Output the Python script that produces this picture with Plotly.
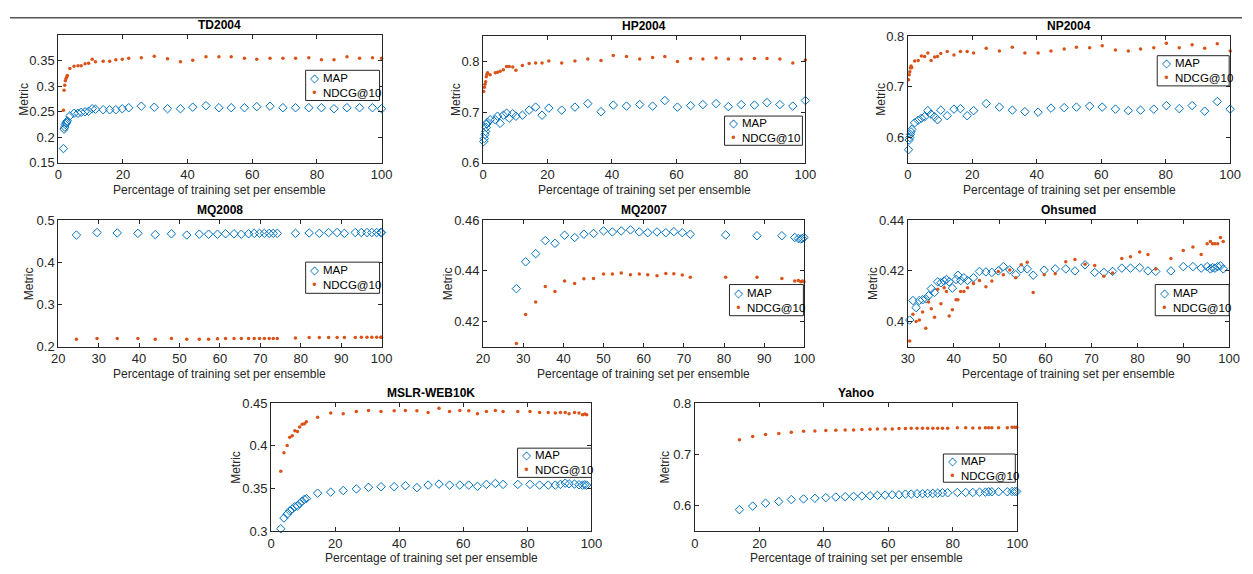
import plotly.graph_objects as go

W, H = 1253, 574

# ---------------- data ----------------
td_x = [1.6, 1.8, 2.0, 2.2, 2.4, 2.6, 2.8, 3.6, 4.9, 6.1, 7.1, 8.3, 9.4, 10.5, 11.5, 13.9, 15.9, 17.8, 19.8, 21.8,
        25.7, 29.7, 33.8, 37.8, 41.6, 45.7, 49.7, 53.5, 57.6, 61.4, 65.5, 69.5, 73.4, 77.5, 81.4, 85.3, 89.3, 93.2, 97.2, 100]
td_map = [0.178, 0.216, 0.22, 0.225, 0.228, 0.23, 0.232, 0.242, 0.247, 0.247, 0.249, 0.25, 0.251, 0.256, 0.255,
          0.254, 0.254, 0.254, 0.256, 0.258, 0.261, 0.259, 0.256, 0.256, 0.259, 0.262, 0.258, 0.258, 0.258, 0.26,
          0.261, 0.258, 0.258, 0.258, 0.258, 0.256, 0.258, 0.258, 0.258, 0.256]
td_ndcg = [0.253, 0.292, 0.302, 0.311, 0.315, 0.318, 0.321, 0.335, 0.339, 0.34, 0.34, 0.344, 0.345, 0.353, 0.348,
           0.349, 0.349, 0.352, 0.353, 0.355, 0.356, 0.359, 0.354, 0.348, 0.351, 0.358, 0.358, 0.358, 0.355, 0.353,
           0.355, 0.355, 0.355, 0.356, 0.352, 0.352, 0.358, 0.355, 0.356, 0.355]

hp_x = [0.2, 0.4, 0.6, 0.8, 1.0, 1.2, 1.4, 2.2, 3.8, 4.5, 5.3, 6.3, 7.3, 8.1, 9.2, 10.2, 12.2, 14.3, 16.3, 18.3, 20.4,
        24.4, 28.5, 32.5, 36.6, 40.4, 44.5, 48.6, 52.6, 56.4, 60.3, 64.4, 68.2, 72.3, 76.1, 80.1, 84.2, 88.1, 92.1, 96.1, 100]
hp_map = [0.642, 0.648, 0.656, 0.662, 0.67, 0.677, 0.68, 0.685, 0.685, 0.692, 0.678, 0.694, 0.698, 0.688, 0.697,
          0.692, 0.694, 0.704, 0.71, 0.694, 0.708, 0.704, 0.71, 0.717, 0.701, 0.714, 0.712, 0.715, 0.712, 0.723,
          0.71, 0.713, 0.715, 0.717, 0.711, 0.715, 0.714, 0.719, 0.715, 0.712, 0.723]
hp_ndcg = [0.741, 0.749, 0.755, 0.76, 0.77, 0.775, 0.778, 0.774, 0.778, 0.779, 0.781, 0.784, 0.79, 0.79, 0.789,
           0.783, 0.792, 0.796, 0.797, 0.797, 0.801, 0.797, 0.801, 0.805, 0.802, 0.812, 0.81, 0.805, 0.808, 0.81,
           0.8, 0.806, 0.805, 0.807, 0.805, 0.805, 0.806, 0.806, 0.805, 0.797, 0.803]

np_x = [0.2, 0.4, 0.6, 0.8, 1.0, 1.2, 2.1, 3.2, 4.2, 5.2, 6.2, 7.2, 8.3, 9.2, 10.2, 12.2, 14.3, 16.3, 18.4, 20.4,
        24.3, 28.4, 32.4, 36.3, 40.4, 44.4, 48.5, 52.3, 56.4, 60.3, 64.4, 68.4, 72.2, 76.3, 80.2, 84.2, 88.2, 92.1, 96.0, 100]
np_map = [0.576, 0.595, 0.6, 0.606, 0.611, 0.616, 0.629, 0.634, 0.638, 0.641, 0.653, 0.646, 0.641, 0.635, 0.654,
          0.643, 0.656, 0.657, 0.643, 0.653, 0.667, 0.66, 0.654, 0.651, 0.65, 0.658, 0.659, 0.66, 0.662, 0.66,
          0.656, 0.653, 0.654, 0.656, 0.663, 0.657, 0.663, 0.652, 0.671, 0.656]
np_ndcg = [0.714, 0.724, 0.73, 0.737, 0.741, 0.738, 0.751, 0.752, 0.761, 0.76, 0.767, 0.752, 0.759, 0.76, 0.766,
           0.77, 0.763, 0.77, 0.77, 0.767, 0.776, 0.771, 0.778, 0.767, 0.767, 0.771, 0.775, 0.778, 0.777, 0.781,
           0.773, 0.771, 0.775, 0.777, 0.786, 0.777, 0.783, 0.776, 0.785, 0.771]

mq8_x = [24.5, 29.6, 34.6, 39.7, 44.0, 48.0, 51.8, 54.9, 57.2, 59.4, 61.4, 63.5, 65.3, 67.1, 68.5, 69.8, 71.0,
         72.2, 73.2, 74.2, 78.7, 82.1, 84.6, 86.9, 89.0, 90.8, 93.5, 95.0, 96.4, 97.6, 98.8, 99.8, 100]
mq8_map = [0.465, 0.471, 0.47, 0.469, 0.466, 0.468, 0.465, 0.467, 0.467, 0.467, 0.468, 0.468, 0.467, 0.468,
           0.469, 0.469, 0.469, 0.469, 0.469, 0.469, 0.469, 0.47, 0.469, 0.471, 0.471, 0.469, 0.471, 0.471,
           0.471, 0.471, 0.471, 0.471, 0.471]
mq8_ndcg = [0.218, 0.22, 0.22, 0.22, 0.218, 0.22, 0.218, 0.218, 0.218, 0.219, 0.22, 0.22, 0.22, 0.22, 0.22,
            0.22, 0.22, 0.22, 0.22, 0.22, 0.221, 0.222, 0.222, 0.222, 0.222, 0.222, 0.222, 0.223, 0.223, 0.223,
            0.223, 0.223, 0.223]

mq7_x = [28.3, 30.6, 33.1, 35.5, 37.9, 40.3, 42.8, 45.1, 47.5, 50.0, 52.2, 54.4, 56.7, 58.9, 61.0, 63.3, 65.5,
         67.5, 69.6, 71.6, 80.4, 88.2, 94.4, 97.6, 98.5, 99.1, 99.5, 99.9]
mq7_map = [0.433, 0.4436, 0.4468, 0.452, 0.4509, 0.4541, 0.4532, 0.4545, 0.4548, 0.4558, 0.4554, 0.4558, 0.4562,
           0.4554, 0.4551, 0.4554, 0.4551, 0.4555, 0.4551, 0.4545, 0.4542, 0.4539, 0.4539, 0.4532, 0.4528,
           0.4526, 0.4528, 0.4532]
mq7_ndcg = [0.4113, 0.4228, 0.4277, 0.4338, 0.4319, 0.436, 0.435, 0.4369, 0.437, 0.4388, 0.4388, 0.4392, 0.4385,
            0.4388, 0.4385, 0.4381, 0.439, 0.4389, 0.4384, 0.4375, 0.4375, 0.4375, 0.437, 0.436, 0.4362, 0.4357,
            0.436, 0.4357]

oh_x = [30.4, 31.1, 31.8, 32.5, 33.2, 33.9, 34.5, 35.1, 35.8, 36.5, 37.2, 37.9, 38.4, 39.0, 39.7, 40.5, 40.9,
        41.5, 42.2, 43.0, 44.3, 45.6, 47.0, 48.3, 49.7, 50.8, 52.2, 53.5, 54.7, 56.0, 57.3, 59.7, 62.1, 64.4,
        66.4, 68.6, 70.7, 72.7, 74.6, 76.6, 78.5, 80.5, 82.3, 84.0, 87.3, 90.0, 92.1, 93.9, 95.2, 95.9, 96.4,
        96.9, 97.5, 98.1, 98.7]
oh_map = [0.4006, 0.4083, 0.4055, 0.4083, 0.4086, 0.409, 0.4102, 0.413, 0.4115, 0.4157, 0.4153, 0.416, 0.4166,
          0.4157, 0.4132, 0.4166, 0.4183, 0.4162, 0.4173, 0.4162, 0.4173, 0.4198, 0.4196, 0.4194, 0.42, 0.4217,
          0.4204, 0.4185, 0.4208, 0.4208, 0.4183, 0.4203, 0.4208, 0.4208, 0.42, 0.4224, 0.4194, 0.4194, 0.4198,
          0.4211, 0.4211, 0.4213, 0.42, 0.4198, 0.42, 0.4217, 0.4217, 0.4211, 0.4217, 0.4208, 0.4213, 0.4211,
          0.4217, 0.422, 0.4208]
oh_ndcg = [0.3923, 0.4029, 0.40, 0.4006, 0.4038, 0.3974, 0.4077, 0.4051, 0.4017, 0.4128, 0.407, 0.4134, 0.4119,
           0.4022, 0.4047, 0.4086, 0.4086, 0.4119, 0.4119, 0.4134, 0.415, 0.4162, 0.4137, 0.416, 0.4198, 0.4185,
           0.4204, 0.4173, 0.4224, 0.4234, 0.4115, 0.4185, 0.4189, 0.4236, 0.4245, 0.4226, 0.4221, 0.4179, 0.4192,
           0.4249, 0.4256, 0.4275, 0.4265, 0.4208, 0.4249, 0.4281, 0.4294, 0.4265, 0.4307, 0.4316, 0.4307, 0.4307,
           0.4307, 0.4332, 0.4316]

ms_x = [3.0, 4.0, 5.0, 5.8, 6.6, 7.4, 8.2, 8.9, 9.7, 10.4, 11.0, 14.5, 18.6, 22.5, 26.6, 30.4, 34.3, 38.4, 41.9,
        45.5, 49.0, 52.4, 55.7, 58.9, 61.7, 64.4, 67.2, 70.0, 72.4, 77.0, 80.8, 83.8, 86.5, 88.7, 90.3, 91.8, 93.0,
        94.7, 96.1, 97.2, 97.9, 98.5]
ms_map = [0.3026, 0.3152, 0.3197, 0.3235, 0.3258, 0.3285, 0.3292, 0.3323, 0.3349, 0.3372, 0.338, 0.3444, 0.3456,
          0.3475, 0.3494, 0.3513, 0.352, 0.352, 0.3532, 0.3509, 0.3539, 0.3551, 0.3539, 0.3539, 0.3539, 0.3524,
          0.3547, 0.3558, 0.3547, 0.3547, 0.3547, 0.3539, 0.3539, 0.3539, 0.3547, 0.3562, 0.3554, 0.3551, 0.3543,
          0.3539, 0.3543, 0.3539]
ms_ndcg = [0.3702, 0.3919, 0.4006, 0.4101, 0.412, 0.4177, 0.417, 0.4223, 0.4253, 0.4261, 0.4284, 0.4337, 0.4386,
           0.4378, 0.4405, 0.4416, 0.4405, 0.4413, 0.4416, 0.4413, 0.4394, 0.4443, 0.4405, 0.4416, 0.4413, 0.4378,
           0.4405, 0.4416, 0.4405, 0.4405, 0.4405, 0.4394, 0.4394, 0.4386, 0.4394, 0.4394, 0.4378, 0.4394, 0.4386,
           0.4367, 0.4375, 0.4367]

ya_x = [13.8, 17.9, 21.9, 26.0, 29.9, 33.7, 37.2, 40.6, 43.7, 46.6, 49.2, 51.8, 54.3, 56.6, 59.0, 61.2, 63.3,
        65.3, 67.1, 68.9, 70.6, 72.2, 73.8, 75.3, 76.8, 78.4, 81.4, 84.0, 86.2, 88.3, 90.1, 91.1, 92.1, 94.2,
        96.9, 98.4, 99.2, 99.8]
ya_map = [0.5917, 0.5987, 0.6044, 0.6076, 0.6114, 0.6127, 0.614, 0.6152, 0.6165, 0.6171, 0.6178, 0.6184, 0.619,
          0.6197, 0.6203, 0.6209, 0.6209, 0.6222, 0.6222, 0.6229, 0.6229, 0.6235, 0.6235, 0.6241, 0.6248, 0.6248,
          0.6254, 0.6254, 0.6254, 0.626, 0.626, 0.6267, 0.6267, 0.6267, 0.6267, 0.6273, 0.6273, 0.6273]
ya_ndcg = [0.7289, 0.7352, 0.739, 0.741, 0.7435, 0.7454, 0.746, 0.7467, 0.7473, 0.7479, 0.7479, 0.7486, 0.7492,
           0.7498, 0.7498, 0.7498, 0.7505, 0.7505, 0.7511, 0.7511, 0.7511, 0.7511, 0.7511, 0.7511, 0.7511, 0.7511,
           0.7524, 0.7524, 0.7517, 0.7517, 0.7524, 0.7524, 0.7524, 0.7524, 0.7524, 0.753, 0.753, 0.753]

# tick values
xt_0_100 = [0, 20, 40, 60, 80, 100]
xt_20_100 = [20, 30, 40, 50, 60, 70, 80, 90, 100]
xt_30_100 = [30, 40, 50, 60, 70, 80, 90, 100]
td_yt = [0.15, 0.2, 0.25, 0.3, 0.35]
hp_yt = [0.6, 0.7, 0.8]
np_yt = [0.6, 0.7, 0.8]
mq8_yt = [0.2, 0.3, 0.4, 0.5]
mq7_yt = [0.42, 0.44, 0.46]
oh_yt = [0.4, 0.42, 0.44]
ms_yt = [0.3, 0.35, 0.4, 0.45]
ya_yt = [0.6, 0.7, 0.8]

titles = ["TD2004", "HP2004", "NP2004", "MQ2008", "MQ2007", "Ohsumed", "MSLR-WEB10K", "Yahoo"]
series_names = ["MAP", "NDCG@10"]
x_label = "Percentage of training set per ensemble"
y_label = "Metric"

datasets = [
    (td_x, td_map, td_ndcg, xt_0_100, td_yt),
    (hp_x, hp_map, hp_ndcg, xt_0_100, hp_yt),
    (np_x, np_map, np_ndcg, xt_0_100, np_yt),
    (mq8_x, mq8_map, mq8_ndcg, xt_20_100, mq8_yt),
    (mq7_x, mq7_map, mq7_ndcg, xt_20_100, mq7_yt),
    (oh_x, oh_map, oh_ndcg, xt_30_100, oh_yt),
    (ms_x, ms_map, ms_ndcg, xt_0_100, ms_yt),
    (ya_x, ya_map, ya_ndcg, xt_0_100, ya_yt),
]

# ---------------- layout (pixels) ----------------
y_ranges = [[0.15, 0.4], [0.6, 0.85], [0.55, 0.8], [0.2, 0.5], [0.41, 0.46], [0.39, 0.44], [0.3, 0.45], [0.55, 0.8]]
boxes = [(52, 380, 29, 160), (483, 810, 30, 160), (914, 1241, 30, 160),
         (52, 380, 219, 349), (483, 809, 219, 349), (914, 1240, 219, 349),
         (268, 593, 407, 538), (698, 1025, 407, 538)]
ylab_off = [35, 28, 28, 30, 36, 36, 36, 30]
legend_boxes = [(303, 378, 65, 96), (728, 807, 112, 142), (1167, 1240, 50, 81),
                (303, 378, 262, 294), (733, 808, 285, 317), (1165, 1240, 285, 317),
                (518, 593, 453, 483), (950, 1023, 459, 488)]

BLUE = "#0072BD"
ORANGE = "#D95319"
AXC = "#262626"
FONT = "Liberation Sans, Arial, DejaVu Sans, sans-serif"

def px(x):
    return x / W

def py(y):
    return 1 - y / H

fig = go.Figure()
annotations = []
shapes = []
layout_axes = {}

for i, (xs, ymap, yndcg, xt, yt) in enumerate(datasets):
    n = i + 1
    xa = "x" if n == 1 else f"x{n}"
    ya = "y" if n == 1 else f"y{n}"
    xkey = "xaxis" if n == 1 else f"xaxis{n}"
    ykey = "yaxis" if n == 1 else f"yaxis{n}"
    l, r, t, b = boxes[i]

    fig.add_trace(go.Scatter(x=xs, y=ymap, mode="markers", name=series_names[0], xaxis=xa, yaxis=ya,
                             showlegend=False, cliponaxis=False,
                             marker=dict(symbol="diamond-open", size=6.5, color=BLUE, line=dict(width=1, color=BLUE))))
    fig.add_trace(go.Scatter(x=xs, y=yndcg, mode="markers", name=series_names[1], xaxis=xa, yaxis=ya,
                             showlegend=False, cliponaxis=False,
                             marker=dict(symbol="circle", size=3.5, color=ORANGE)))

    common = dict(showgrid=False, zeroline=False, showline=True, linecolor=AXC, linewidth=1,
                  mirror="ticks", ticks="inside", ticklen=4, tickcolor=AXC, tickwidth=1,
                  tickfont=dict(family=FONT, size=13, color=AXC), fixedrange=True)
    xr = [xt[0], xt[-1]]
    layout_axes[xkey] = dict(common, domain=[px(l), px(r)], range=xr, anchor=ya,
                             tickmode="array", tickvals=xt, ticktext=[str(v) for v in xt])
    layout_axes[ykey] = dict(common, domain=[py(b), py(t)], range=y_ranges[i], anchor=xa,
                             tickmode="array", tickvals=yt, ticktext=[str(v) for v in yt])

    cx = (l + r) / 2
    cy = (t + b) / 2
    annotations.append(dict(text=f"<b>{titles[i]}</b>", x=px(cx), y=py(t - 1), xref="paper", yref="paper",
                            xanchor="center", yanchor="bottom", showarrow=False,
                            font=dict(family=FONT, size=12, color="#000")))
    annotations.append(dict(text=x_label, x=px(cx), y=py(b + 28), xref="paper", yref="paper",
                            xanchor="center", yanchor="middle", showarrow=False,
                            font=dict(family=FONT, size=12, color=AXC)))
    annotations.append(dict(text=y_label, x=px(l - ylab_off[i]), y=py(cy), xref="paper", yref="paper",
                            xanchor="center", yanchor="middle", showarrow=False, textangle=-90,
                            font=dict(family=FONT, size=12, color=AXC)))

    # legend box
    lx0, lx1, ly0, ly1 = legend_boxes[i]
    shapes.append(dict(type="rect", xref="paper", yref="paper", x0=px(lx0), x1=px(lx1), y0=py(ly1), y1=py(ly0),
                       line=dict(color=AXC, width=1), fillcolor="white", layer="above"))
    lcy = (ly0 + ly1) / 2
    annotations.append(dict(text=f'<span style="color:{BLUE}">◇</span><br><span style="color:{ORANGE}">•</span>',
                            x=px(lx0 + 9), y=py(lcy), xref="paper", yref="paper", xanchor="center",
                            yanchor="middle", align="center", showarrow=False,
                            font=dict(family="DejaVu Sans, sans-serif", size=11.5, color="#000")))
    annotations.append(dict(text=f"{series_names[0]}<br>{series_names[1]}", x=px(lx0 + 16), y=py(lcy),
                            xref="paper", yref="paper", xanchor="left", yanchor="middle", align="left",
                            showarrow=False, font=dict(family=FONT, size=11.5, color="#000")))

# top rule line
shapes.append(dict(type="line", xref="paper", yref="paper", x0=px(3), x1=1, y0=py(11), y1=py(11),
                   line=dict(color="#555", width=1.5)))

fig.update_layout(width=W, height=H, autosize=False, margin=dict(l=0, r=0, t=0, b=0, pad=0),
                  paper_bgcolor="white", plot_bgcolor="white", showlegend=False,
                  annotations=annotations, shapes=shapes, **layout_axes)

fig.write_html("out.html")
